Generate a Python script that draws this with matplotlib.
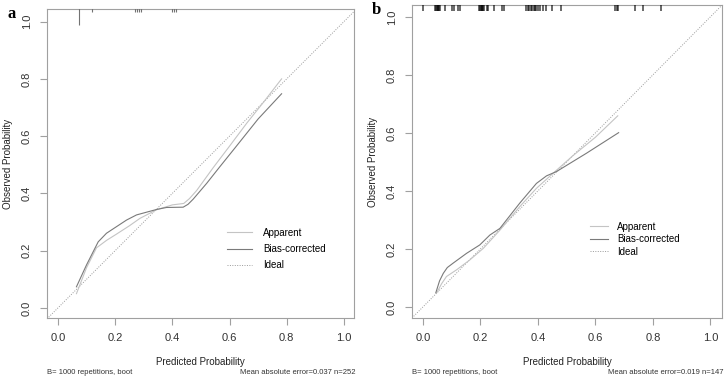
import matplotlib
matplotlib.use("Agg")
import matplotlib.pyplot as plt
import numpy as np

plt.rcParams['font.family'] = ['Liberation Sans', 'DejaVu Sans']

# ---- panel a data ----
a_app_x = [0.065, 0.10, 0.135, 0.17, 0.205, 0.25, 0.287, 0.345, 0.40, 0.44, 0.46, 0.485, 0.543, 0.60, 0.66, 0.72, 0.782]
a_app_y = [0.050, 0.14, 0.210, 0.236, 0.258, 0.287, 0.313, 0.343, 0.36, 0.365, 0.382, 0.41, 0.49, 0.565, 0.645, 0.72, 0.80]
a_bias_x = [0.065, 0.10, 0.141, 0.17, 0.205, 0.24, 0.275, 0.345, 0.38, 0.438, 0.455, 0.473, 0.52, 0.566, 0.62, 0.70, 0.782]
a_bias_y = [0.074, 0.15, 0.231, 0.261, 0.284, 0.307, 0.325, 0.344, 0.351, 0.352, 0.362, 0.38, 0.435, 0.493, 0.56, 0.66, 0.748]
a_rug_x = [0.075, 0.118, 0.27, 0.277, 0.284, 0.29, 0.40, 0.405, 0.412]
a_rug_n = [5, 1, 1, 1, 1, 1, 1, 1, 1]
a_note = "Mean absolute error=0.037 n=252"

# ---- panel b data ----
b_app_x = [0.047, 0.065, 0.082, 0.117, 0.163, 0.21, 0.268, 0.337, 0.395, 0.453, 0.52, 0.60, 0.678]
b_app_y = [0.047, 0.08, 0.105, 0.128, 0.162, 0.202, 0.265, 0.346, 0.409, 0.461, 0.52, 0.585, 0.659]
b_bias_x = [0.045, 0.058, 0.071, 0.085, 0.105, 0.152, 0.198, 0.233, 0.268, 0.337, 0.395, 0.43, 0.465, 0.569, 0.681]
b_bias_y = [0.049, 0.09, 0.116, 0.136, 0.151, 0.185, 0.214, 0.248, 0.271, 0.358, 0.426, 0.452, 0.467, 0.53, 0.601]
b_rug_x = [0.002, 0.042, 0.045, 0.048, 0.051, 0.054, 0.057, 0.060, 0.077, 0.100, 0.109,
           0.123, 0.129, 0.195, 0.198, 0.201, 0.204, 0.207, 0.210, 0.213, 0.222, 0.227,
           0.248, 0.276, 0.283, 0.360, 0.365, 0.370, 0.375, 0.380, 0.385, 0.390, 0.395,
           0.400, 0.407, 0.419, 0.430, 0.448, 0.482, 0.668, 0.674, 0.679, 0.737, 0.766, 0.830]
b_note = "Mean absolute error=0.019 n=147"

ticks = [0.0, 0.2, 0.4, 0.6, 0.8, 1.0]
tick_labels = ["0.0", "0.2", "0.4", "0.6", "0.8", "1.0"]

app_col = "#c4c4c4"
bias_col = "#7a7a7a"
ideal_col = "#9a9a9a"
frame_col = "#a0a0a0"


def calib_panel(ax, app_x, app_y, bias_x, bias_y, rug_x, rug_n, note, xlim, ylim,
                letter, leg_anchor, leg_kw, rug_alpha, rug_lw):
    ax.set_xlim(*xlim)
    ax.set_ylim(*ylim)
    ax.plot(list(xlim), list(xlim), color=ideal_col, lw=0.7, ls=(0, (1, 1.5)), label="Ideal", zorder=1)
    ax.plot(app_x, app_y, color=app_col, lw=0.8, label="Apparent", zorder=2)
    ax.plot(bias_x, bias_y, color=bias_col, lw=0.8, label="Bias-corrected", zorder=3)

    # rug of predicted values along the top
    top = ylim[1]
    lens = np.array(rug_n) * 0.011
    ax.vlines(rug_x, top - lens, top, color="black", lw=rug_lw, alpha=rug_alpha, zorder=4)

    for s in ax.spines.values():
        s.set_color(frame_col)
        s.set_linewidth(0.8)
    ax.set_xticks(ticks)
    ax.set_xticklabels(tick_labels)
    ax.set_yticks(ticks)
    ax.set_yticklabels(tick_labels, rotation=90, va="center")
    ax.tick_params(colors=frame_col, labelcolor="#333333", labelsize=8, length=5, width=0.8)
    ax.tick_params(axis="x", pad=6)
    ax.tick_params(axis="y", pad=6)
    ax.set_xlabel("Predicted Probability", fontsize=7, color="#222222", labelpad=10)
    ax.set_ylabel("Observed Probability", fontsize=7, color="#222222", labelpad=6)

    h, l = ax.get_legend_handles_labels()
    order = [1, 2, 0]
    ax.legend([h[i] for i in order], [l[i] for i in order], loc="center left",
              bbox_to_anchor=leg_anchor, frameon=False, fontsize=7,
              borderpad=0, borderaxespad=0, **leg_kw)

    ax.text(0.0, -0.175, "B= 1000 repetitions, boot", transform=ax.transAxes,
            fontsize=5.5, color="#333333", ha="left", va="center")
    ax.text(1.005, -0.175, note, transform=ax.transAxes,
            fontsize=5.5, color="#333333", ha="right", va="center")
    ax.text(-0.115, 0.985, letter, transform=ax.transAxes, fontsize=12,
            fontweight="bold", family="Liberation Serif", ha="center", va="center")


fig = plt.figure(figsize=(7.24, 3.78), dpi=100)
ax_a = fig.add_axes([0.0649, 0.1587, 0.424, 0.8175])
ax_b = fig.add_axes([0.569, 0.1587, 0.428, 0.828])

calib_panel(ax_a, a_app_x, a_app_y, a_bias_x, a_bias_y, a_rug_x, a_rug_n, a_note,
            (-0.038, 1.035), (-0.035, 1.044), "a", (0.586, 0.223),
            dict(handlelength=2.6, handletextpad=1.1, labelspacing=0.65), 0.55, 0.8)
calib_panel(ax_b, b_app_x, b_app_y, b_bias_x, b_bias_y, b_rug_x, [2] * len(b_rug_x), b_note,
            (-0.038, 1.04), (-0.038, 1.041), "b", (0.574, 0.252),
            dict(handlelength=1.9, handletextpad=0.9, labelspacing=0.25), 0.75, 1.1)

fig.savefig("out.png", dpi=100)
